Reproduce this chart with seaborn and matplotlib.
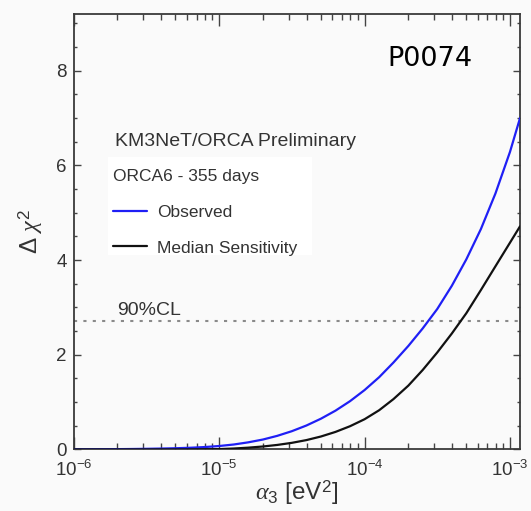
import matplotlib
matplotlib.use("Agg")
import matplotlib.pyplot as plt
from matplotlib.patches import Rectangle
import numpy as np
import pandas as pd
import seaborn as sns
from matplotlib.ticker import LogLocator, MultipleLocator, NullFormatter

# alpha_3 scan points [eV^2] (tenth-of-a-decade grid) and the Delta chi^2 profiles
alpha3 = [1.00e-6, 1.26e-6, 1.58e-6, 2.00e-6, 2.51e-6, 3.16e-6, 3.98e-6, 5.01e-6,
          6.31e-6, 7.94e-6, 1.00e-5, 1.26e-5, 1.58e-5, 2.00e-5, 2.51e-5, 3.16e-5,
          3.98e-5, 5.01e-5, 6.31e-5, 7.94e-5, 1.00e-4, 1.26e-4, 1.58e-4, 2.00e-4,
          2.51e-4, 3.16e-4, 3.98e-4, 5.01e-4, 6.31e-4, 7.94e-4, 1.00e-3, 1.172e-3]
observed = [0.0, 0.002, 0.004, 0.007, 0.010, 0.014, 0.019, 0.026,
            0.036, 0.051, 0.073, 0.105, 0.150, 0.210, 0.288, 0.386,
            0.506, 0.650, 0.820, 1.020, 1.255, 1.527, 1.837, 2.187,
            2.557, 2.967, 3.457, 4.017, 4.657, 5.407, 6.287, 7.0]
median_sens = [0.0, 0.0, 0.0, 0.0, 0.001, 0.001, 0.002, 0.002,
               0.003, 0.005, 0.008, 0.020, 0.038, 0.063, 0.096, 0.140,
               0.198, 0.274, 0.371, 0.491, 0.639, 0.829, 1.064, 1.349,
               1.679, 2.049, 2.449, 2.879, 3.369, 3.869, 4.369, 4.714]
cl90 = 2.71

series_labels = ["Observed", "Median Sensitivity"]
series_colors = ["#1f1ff5", "#111111"]

sns.set_theme(style="ticks")
plt.rcParams["font.family"] = ["Liberation Sans", "DejaVu Sans"]
plt.rcParams["mathtext.fontset"] = "custom"
plt.rcParams["mathtext.rm"] = "Liberation Sans"
plt.rcParams["mathtext.it"] = "Liberation Serif:italic"
plt.rcParams["mathtext.bf"] = "Liberation Sans:bold"

bg = "#fafafa"
txt = "#333333"
fig = plt.figure(figsize=(5.31, 5.11), dpi=100, facecolor=bg)
ax = fig.add_axes([0.1388, 0.1204, 0.8405, 0.8522], facecolor=bg)

df = pd.DataFrame({
    "alpha3": alpha3 * 2,
    "dchi2": observed + median_sens,
    "curve": [series_labels[0]] * len(alpha3) + [series_labels[1]] * len(alpha3),
})
for lab, col in zip(series_labels, series_colors):
    sns.lineplot(data=df[df["curve"] == lab], x="alpha3", y="dchi2", ax=ax,
                 color=col, lw=1.6, label=lab, legend=False, zorder=3)

ax.axhline(cl90, color="#8a8a8a", lw=1.5, ls=(0, (1.5, 3)), zorder=1)
ax.text(0.097, cl90 + 0.05, "90%CL", transform=ax.get_yaxis_transform(),
        fontsize=14, color=txt, va="bottom", ha="left")

ax.set_xscale("log")
ax.set_xlim(1e-6, 1.172e-3)
ax.set_ylim(0, 9.2)
ax.xaxis.set_major_locator(LogLocator(base=10, numticks=10))
ax.xaxis.set_minor_locator(LogLocator(base=10, subs=np.arange(2, 10), numticks=20))
ax.xaxis.set_minor_formatter(NullFormatter())
ax.yaxis.set_major_locator(MultipleLocator(2))
ax.yaxis.set_minor_locator(MultipleLocator(0.5))

for side in ["left", "right", "top", "bottom"]:
    ax.spines[side].set_color("#3a3a3a")
    ax.spines[side].set_linewidth(1.3)

ax.tick_params(which="both", direction="in", top=True, right=True,
               colors="#444444", labelcolor=txt, labelsize=13.5, width=1.0)
ax.tick_params(axis="x", which="major", length=8.5, pad=7.5)
ax.tick_params(axis="x", which="minor", length=4.3)
ax.tick_params(axis="y", which="major", length=5, pad=5)
ax.tick_params(axis="y", which="minor", length=2.5)

ax.set_xlabel(r"$\alpha_3$ [eV$^2$]", fontsize=17.5, color=txt, labelpad=-1)
ax.set_ylabel(r"Δ $\chi^2$", fontsize=17.5, color=txt, labelpad=8)

ax.text(0.0925, 0.708, "KM3NeT/ORCA Preliminary", transform=ax.transAxes,
        fontsize=14, color=txt, va="center", ha="left")
ax.text(0.798, 0.897, "P0074", transform=ax.transAxes, fontsize=19.5,
        family=["DejaVu Sans"], color="black", va="center", ha="center")

# white panel behind the legend
ax.add_patch(Rectangle((0.0769, 0.4466), 0.457, 0.225, transform=ax.transAxes,
                       facecolor="white", edgecolor="none", zorder=2))

leg = ax.legend(title="ORCA6 - 355 days", loc="upper left",
                bbox_to_anchor=(0.087, 0.645), borderaxespad=0, fontsize=12.5,
                title_fontsize=12.5, alignment="left", frameon=False,
                handlelength=2.0, handletextpad=0.55, labelspacing=1.2,
                borderpad=0.0)
leg.set_zorder(4)
for t in leg.get_texts():
    t.set_color(txt)
leg.get_title().set_color(txt)

fig.savefig("out.png", dpi=100, facecolor=bg)
